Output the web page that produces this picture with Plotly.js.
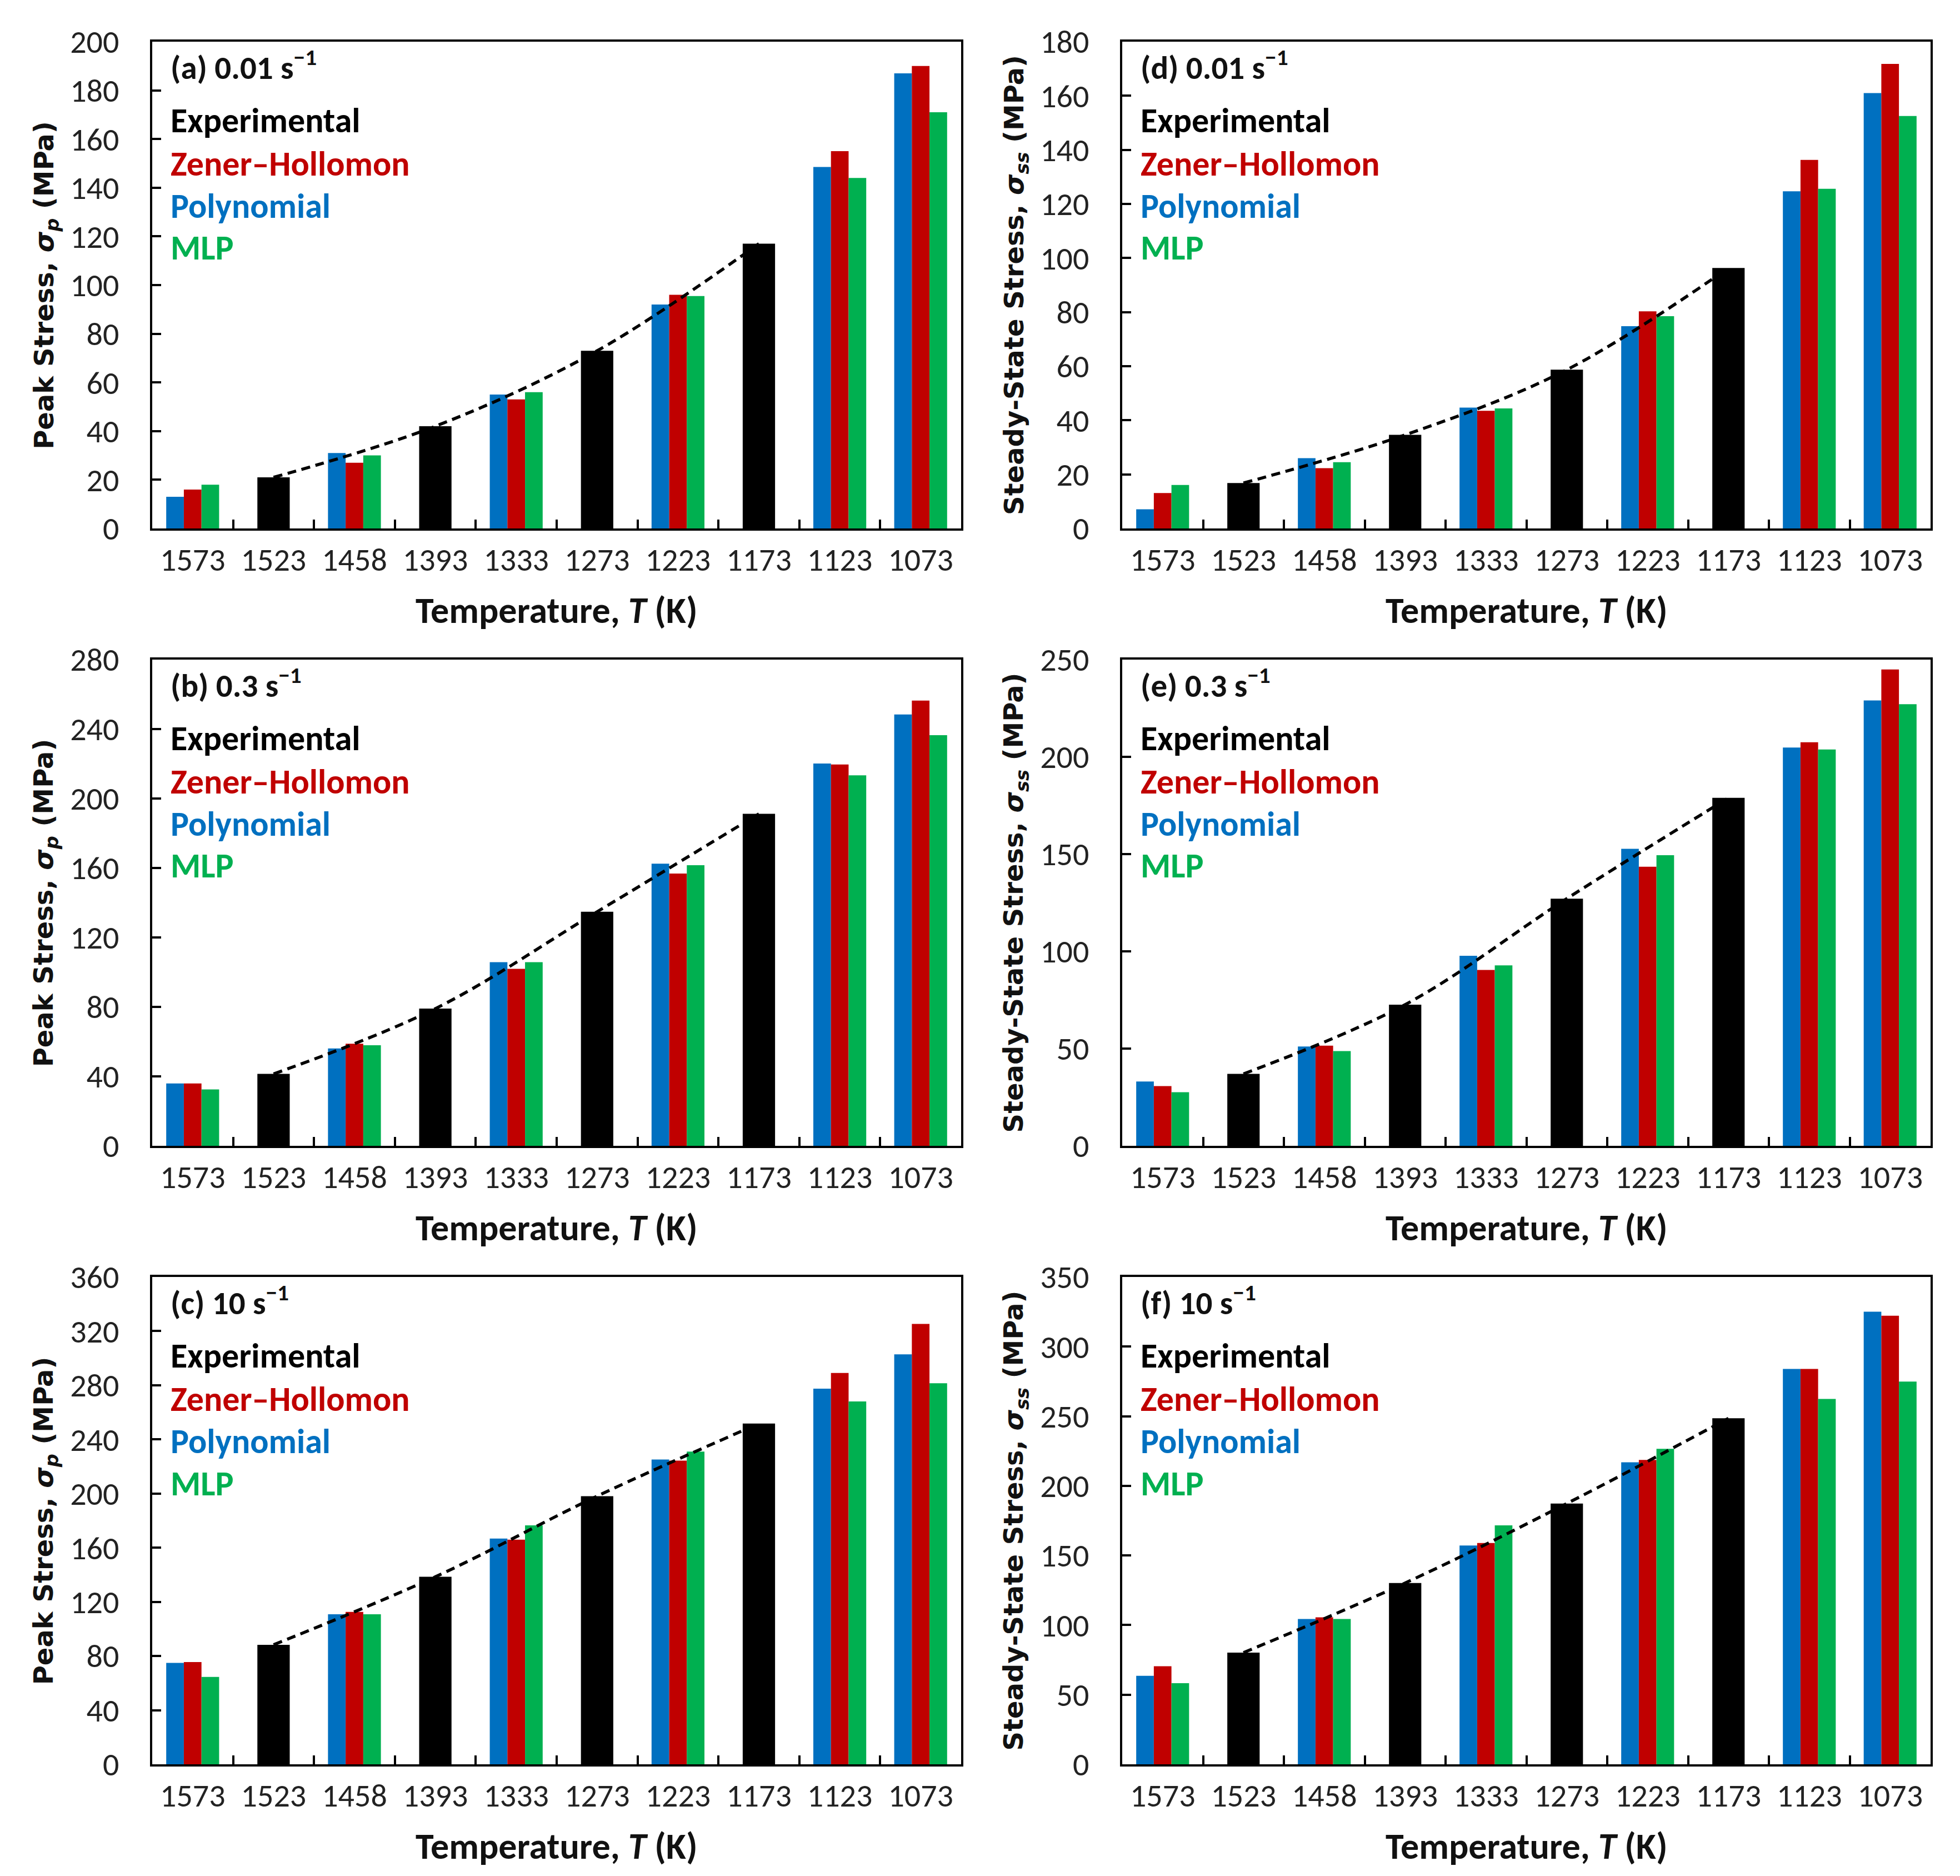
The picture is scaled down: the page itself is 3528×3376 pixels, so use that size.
<!DOCTYPE html>
<html><head><meta charset="utf-8">
<script src="https://cdn.plot.ly/plotly-3.0.1.min.js"></script>
<style>html,body{margin:0;padding:0;background:#fff}</style>
</head><body><div id="chart" style="width:3528px;height:3376px"></div>
<script>
const temps = ['1573','1523','1458','1393','1333','1273','1223','1173','1123','1073'];

// (a) peak stress, 0.01 s-1
const expA  = [null,21,null,42,null,73,null,117,null,null];
const zhA   = [16,null,27,null,53,null,96,null,155,190];
const polyA = [13,null,31,null,55,null,92,null,148.5,187];
const mlpA  = [18,null,30,null,56,null,95.5,null,144,171];
// (b) peak stress, 0.3 s-1
const expB  = [null,41.4,null,79,null,134.8,null,191.2,null,null];
const zhB   = [35.9,null,58.8,null,101.9,null,156.8,null,219.6,256.4];
const polyB = [35.9,null,56.1,null,105.8,null,162.5,null,220.2,248.4];
const mlpB  = [32.5,null,57.9,null,105.8,null,161.6,null,213.4,236.5];
// (c) peak stress, 10 s-1
const expC  = [null,88.3,null,138.5,null,198.1,null,251.7,null,null];
const zhC   = [75.5,null,112.6,null,165.9,null,224.3,null,289.1,325.3];
const polyC = [74.9,null,110.8,null,166.8,null,225.2,null,277.5,302.8];
const mlpC  = [64.5,null,110.8,null,176.5,null,231,null,268.1,281.5];
// (d) steady-state stress, 0.01 s-1
const expD  = [null,16.8,null,34.6,null,58.7,null,96.3,null,null];
const zhD   = [13.1,null,22.3,null,43.5,null,80.3,null,136.3,171.8];
const polyD = [7.1,null,26,null,44.7,null,74.8,null,124.7,161];
const mlpD  = [16.1,null,24.5,null,44.4,null,78.5,null,125.6,152.5];
// (e) steady-state stress, 0.3 s-1
const expE  = [null,37,null,72.6,null,127.1,null,178.9,null,null];
const zhE   = [30.7,null,51.5,null,90.4,null,143.5,null,207.5,244.9];
const polyE = [33.1,null,51.1,null,97.7,null,152.7,null,204.8,229];
const mlpE  = [27.6,null,48.7,null,92.8,null,149.4,null,203.8,227.1];
// (f) steady-state stress, 10 s-1
const expF  = [null,80.2,null,130.2,null,187.3,null,248.5,null,null];
const zhF   = [70.4,null,105.6,null,158.9,null,218.6,null,284,322.2];
const polyF = [63.6,null,104.4,null,157.1,null,216.9,null,284,325.1];
const mlpF  = [58.3,null,104.4,null,171.6,null,226.6,null,262.4,274.9];

const seriesNames = ['Experimental','Zener\u2013Hollomon','Polynomial','MLP'];
const peakTitle = 'Peak Stress, <i>\u03c3</i><sub><i>p</i></sub> (MPa)';
const ssTitle = 'Steady-State Stress, <i>\u03c3</i><sub><i>ss</i></sub> (MPa)';
const xTitleText = 'Temperature, <i>T</i> (K)';

const panels = [
  {n:'',  label:'(a) 0.01 s<sup>\u22121</sup>', yt:peakTitle, range:[0,200], dtick:20, exp:expA, zh:zhA, poly:polyA, mlp:mlpA},
  {n:'2', label:'(d) 0.01 s<sup>\u22121</sup>', yt:ssTitle,   range:[0,180], dtick:20, exp:expD, zh:zhD, poly:polyD, mlp:mlpD},
  {n:'3', label:'(b) 0.3 s<sup>\u22121</sup>',  yt:peakTitle, range:[0,280], dtick:40, exp:expB, zh:zhB, poly:polyB, mlp:mlpB},
  {n:'4', label:'(e) 0.3 s<sup>\u22121</sup>',  yt:ssTitle,   range:[0,250], dtick:50, exp:expE, zh:zhE, poly:polyE, mlp:mlpE},
  {n:'5', label:'(c) 10 s<sup>\u22121</sup>',   yt:peakTitle, range:[0,360], dtick:40, exp:expC, zh:zhC, poly:polyC, mlp:mlpC},
  {n:'6', label:'(f) 10 s<sup>\u22121</sup>',   yt:ssTitle,   range:[0,350], dtick:50, exp:expF, zh:zhF, poly:polyF, mlp:mlpF}
];

const W = 3528, H = 3376;
const colX = [[274/W, 1730/W], [2020/W, 3475/W]];
const rowY = [[1-951/H, 1-75/H], [1-2062/H, 1-1187/H], [1-3175/H, 1-2298/H]];

const C_BLUE = '#0070C0', C_RED = '#C00000', C_GREEN = '#00B050', C_BLACK = '#000000';
const calib = 'Carlito, Calibri, Lato, sans-serif';
const verd = '"DejaVu Sans", Verdana, sans-serif';

const data = [];
const layout = {
  width: W, height: H, margin:{l:0,r:0,t:0,b:0},
  paper_bgcolor:'#ffffff', plot_bgcolor:'#ffffff',
  showlegend:false, barmode:'overlay', annotations:[]
};

panels.forEach((p, i) => {
  const xa = 'x'+p.n, ya = 'y'+p.n;
  const bw = 0.218;
  data.push({type:'bar', x:temps, y:p.poly, xaxis:xa, yaxis:ya, width:bw, offset:-1.5*bw,
    marker:{color:C_BLUE, line:{width:0}}, name:seriesNames[2]});
  data.push({type:'bar', x:temps, y:p.zh, xaxis:xa, yaxis:ya, width:bw, offset:-0.5*bw,
    marker:{color:C_RED, line:{width:0}}, name:seriesNames[1]});
  data.push({type:'bar', x:temps, y:p.mlp, xaxis:xa, yaxis:ya, width:bw, offset:0.5*bw,
    marker:{color:C_GREEN, line:{width:0}}, name:seriesNames[3]});
  data.push({type:'bar', x:temps, y:p.exp, xaxis:xa, yaxis:ya, width:0.40, offset:-0.20,
    marker:{color:C_BLACK, line:{width:0}}, name:seriesNames[0]});
  const lx = temps.filter((t,k)=>p.exp[k]!==null);
  const ly = p.exp.filter(v=>v!==null);
  data.push({type:'scatter', mode:'lines', x:lx, y:ly, xaxis:xa, yaxis:ya,
    line:{color:'#000', width:5.5, dash:'16px,10px', shape:'spline'}, hoverinfo:'skip'});

  const col = i % 2, row = Math.floor(i/2);
  layout['xaxis'+p.n] = {
    type:'category', domain:colX[col], anchor:ya, range:[-0.5, 9.5],
    categoryorder:'array', categoryarray:temps,
    showline:true, linecolor:'#000', linewidth:4, mirror:true,
    ticks:'inside', tickson:'boundaries', ticklen:16, tickwidth:4, tickcolor:'#000',
    showgrid:false, zeroline:false,
    tickfont:{family:calib, size:58, color:'#222'}, ticklabelstandoff:2
  };
  layout['yaxis'+p.n] = {
    domain:rowY[row], anchor:xa, range:p.range, dtick:p.dtick, tick0:0,
    showline:true, linecolor:'#000', linewidth:4, mirror:true,
    ticks:'inside', ticklen:16, tickwidth:4, tickcolor:'#000',
    showgrid:false, zeroline:false,
    tickfont:{family:calib, size:58, color:'#222'}, ticklabelstandoff:44
  };
  const xr = xa+' domain', yr = ya+' domain';
  layout.annotations.push({xref:xr, yref:yr, x:0.021, y:0.951, xanchor:'left', yanchor:'middle',
    text:p.label, showarrow:false, font:{family:calib, size:59, color:'#111', weight:'bold'}});
  const legColors = [C_BLACK, C_RED, C_BLUE, C_GREEN];
  const legY = [0.838, 0.749, 0.662, 0.576];
  seriesNames.forEach((s, k) => {
    layout.annotations.push({xref:xr, yref:yr, x:0.021, y:legY[k], xanchor:'left', yanchor:'middle',
      text:s, showarrow:false, font:{family:calib, size:62, color:legColors[k], weight:'bold'}});
  });
  layout.annotations.push({xref:xr, yref:yr, x:0.5, y:-0.168, xanchor:'center', yanchor:'middle',
    text:xTitleText, showarrow:false, font:{family:calib, size:66, color:'#111', weight:'bold'}});
  layout.annotations.push({xref:xr, yref:yr, x:-0.132, y:0.5, xanchor:'center', yanchor:'middle',
    textangle:-90, text:p.yt, showarrow:false, font:{family:verd, size:48, color:'#111', weight:'bold'}});
});

Plotly.newPlot('chart', data, layout, {staticPlot:true, displayModeBar:false});
</script></body></html>
